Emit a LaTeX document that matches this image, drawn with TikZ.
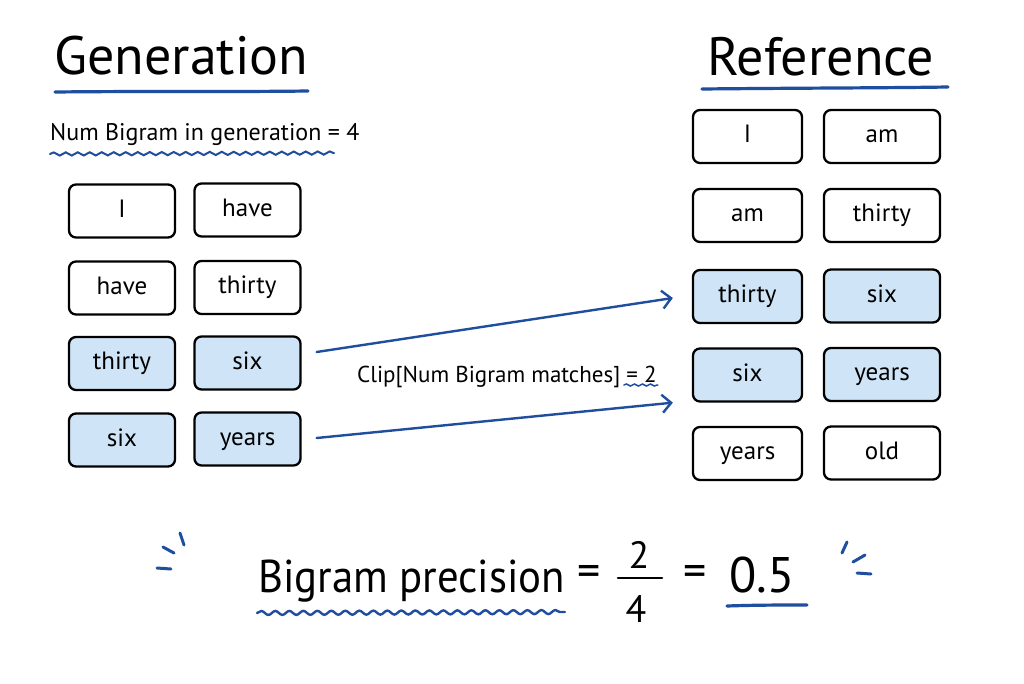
\documentclass[tikz,border=0pt]{standalone}
\usepackage{fontspec}
\setmainfont{PT Sans}
\usetikzlibrary{decorations.pathmorphing,arrows.meta,calc}
\definecolor{ink}{HTML}{1F4E9E}
\definecolor{hl}{HTML}{CFE5F7}
\begin{document}
\begin{tikzpicture}[x=1pt,y=-1pt,
  tok/.style={draw=black, line width=2.3pt, rounded corners=7pt, minimum height=53pt,
    inner sep=0pt, text height=17pt, text depth=5pt, font=\fontsize{25}{28}\selectfont},
  lw/.style={tok, minimum width=106pt},
  rwa/.style={tok, minimum width=109pt},
  rwb/.style={tok, minimum width=116pt},
  hi/.style={fill=hl},
  title/.style={inner sep=0pt, anchor=base west, font=\fontsize{54}{60}\selectfont},
  lab/.style={inner sep=0pt, anchor=base west, font=\fontsize{24}{28}\selectfont},
  big/.style={inner sep=0pt, font=\fontsize{46}{52}\selectfont},
  frac/.style={inner sep=0pt, font=\fontsize{38}{42}\selectfont},
  uline/.style={draw=ink, line width=3.2pt, line cap=round},
  wavy/.style={draw=ink, line width=2pt, line cap=round,
    decorate, decoration={snake, segment length=12pt, amplitude=1.6pt}},
  arr/.style={draw=ink, line width=2.4pt, line cap=round,
    -{Straight Barb[length=9pt, width=18pt, line width=2.4pt]}},
  spark/.style={draw=ink, line width=3pt, line cap=round}]
\useasboundingbox (0,0) rectangle (1024,683);
\fill[white] (0,0) rectangle (1024,683);

% titles
\node[title] (gen) at (54,74) {Generation};
\draw[uline] (55,92) .. controls (150,91) and (230,92) .. (308,91);
\node[title] (ref) at (707,75) {Reference};
\draw[uline] (702,89) .. controls (800,88) and (880,88) .. (948,87);

% count label
\node[lab] (num) at (50,140) {Num Bigram in generation = 4};
\draw[wavy] (50,154) -- (334,153);

% generation tokens
\node[lw] (L11) at (122,211) {I};
\node[lw] (L12) at (247.5,210) {have};
\node[lw] (L21) at (122,288) {have};
\node[lw] (L22) at (247.5,287.5) {thirty};
\node[lw,hi] (L31) at (122,363.5) {thirty};
\node[lw,hi] (L32) at (247.5,363) {six};
\node[lw,hi] (L41) at (122,440) {six};
\node[lw,hi] (L42) at (247.5,439) {years};

% reference tokens
\node[rwa] (R11) at (747.5,136.5) {I};
\node[rwb] (R12) at (882,136.5) {am};
\node[rwa] (R21) at (747.5,215.5) {am};
\node[rwb] (R22) at (882,215.5) {thirty};
\node[rwa,hi] (R31) at (747.5,296.5) {thirty};
\node[rwb,hi] (R32) at (882,296) {six};
\node[rwa,hi] (R41) at (747.5,375) {six};
\node[rwb,hi] (R42) at (882,374.5) {years};
\node[rwa] (R51) at (747.5,453.5) {years};
\node[rwb] (R52) at (882,453) {old};

% arrows
\draw[arr] ($(L32.east)+(15,-11)$) -- ($(R31.west)+(-19,1.5)$);
\draw[arr] ($(L42.east)+(15,-1)$) -- ($(R41.south west)+(-19,0)$);

% clip label
\node[lab, font=\fontsize{23}{27}\selectfont] (clip) at (357,382) {Clip[Num Bigram matches] = 2};
\draw[wavy, line width=1.5pt, decoration={snake, segment length=8pt, amplitude=1pt}]
  ($(clip.base east)+(-33,3)$) -- ($(clip.base east)+(1,3)$);

% bottom formula
\node[big, anchor=base west] (bp) at (258,592) {\scalebox{0.93}[1]{Bigram precision}};
\node[big] (eq1) at (589,576) {=};
\node[frac] (two) at (639,555) {2};
\draw[line width=2.6pt, line cap=round] (618,578) -- (662,578);
\node[frac] (four) at (636,609) {4};
\node[big] (eq2) at (695,576) {=};
\node[big, anchor=base west, font=\fontsize{50}{56}\selectfont] (res) at (729,592) {0.5};
\draw[uline] (727,606) .. controls (755,605) and (780,605) .. (807,605);
\draw[wavy, line width=2.4pt, decoration={snake, segment length=14pt, amplitude=2pt}] (257,613) -- (565,612);

% sparkles
\draw[spark] (180,533) -- (184,545);
\draw[spark] (163,547) -- (174,553);
\draw[spark] (157,568) -- (171,569);
\draw[spark] (847,542) -- (842,553);
\draw[spark] (853,562) -- (865,555);
\draw[spark] (857,573) -- (871,574);
\end{tikzpicture}
\end{document}
